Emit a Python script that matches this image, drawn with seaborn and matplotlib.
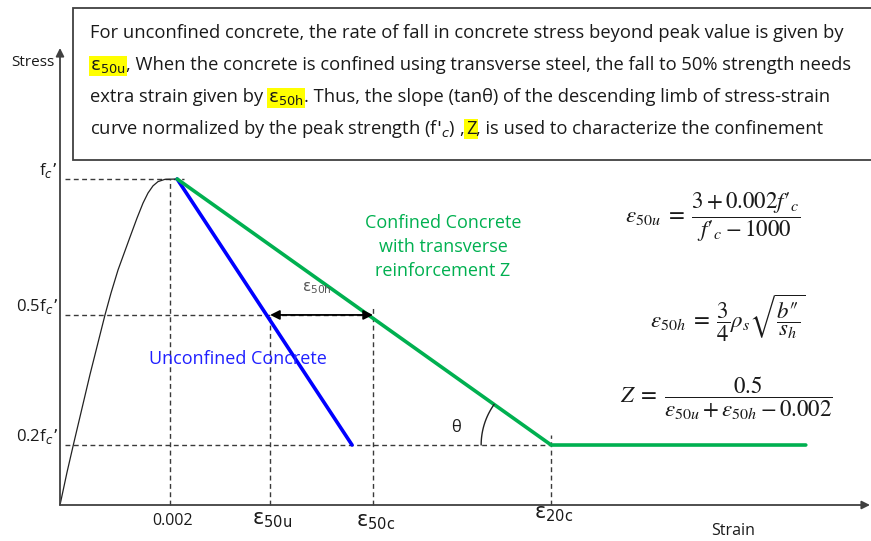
import numpy as np
import pandas as pd
import matplotlib.pyplot as plt
import seaborn as sns
from matplotlib.patches import Rectangle

# Values: strain (absolute), stress as a fraction of f'c
rise_strain = [0.0, 0.000127, 0.000242, 0.000545, 0.000818, 0.000927, 0.001055,
               0.001273, 0.0014, 0.001509, 0.0016, 0.001691, 0.001782, 0.001909, 0.00213]
rise_stress = [0.0, 0.10, 0.184, 0.40, 0.583, 0.65, 0.721,
               0.822, 0.880, 0.926, 0.957, 0.979, 0.992, 0.999, 1.0]

unconf_strain = [0.00213, 0.00531]
unconf_stress = [1.0, 0.184]

conf_strain = [0.00213, 0.00893, 0.01356]
conf_stress = [1.0, 0.184, 0.184]

stress_levels = [1.0, 0.583, 0.184]
stress_labels = ["f$_c$’", "0.5f$_c$’", "0.2f$_c$’"]

strain_marks = [0.002, 0.00382, 0.00569, 0.00893]
strain_labels = ["0.002", r"$\mathrm{\varepsilon}_{\mathrm{50u}}$", r"$\mathrm{\varepsilon}_{\mathrm{50c}}$",
                 r"$\mathrm{\varepsilon}_{\mathrm{20c}}$"]

GREEN = "#00b050"
BLUE = "#0000ff"
DASH = "#3a3a3a"
AXC = "#404040"
FONT = 'Open Sans'


# pixel -> data helpers (only used for placing text and frames)
def fx(px):
    return (px - 60) / 55000


def fy(py):
    return (505 - py) / 326


sns.set_style("white")
plt.rcParams['font.family'] = [FONT, 'DejaVu Sans']
plt.rcParams['text.color'] = '#1a1a1a'

fig = plt.figure(figsize=(8.71, 5.41), dpi=100)
ax = fig.add_axes([0, 0, 1, 1])
ax.set_xlim(fx(0), fx(871))
ax.set_ylim(fy(541), fy(0))
ax.axis('off')

# axes with arrows
arrow_kw = dict(arrowstyle='-|>', color=AXC, lw=1.3, mutation_scale=12, shrinkA=0, shrinkB=0)
ax.annotate("", xy=(0, fy(48)), xytext=(0, 0), arrowprops=arrow_kw)
ax.annotate("", xy=(fx(870), 0), xytext=(0, 0), arrowprops=arrow_kw)

# dashed guide lines
dash_kw = dict(color=DASH, lw=1.0, dashes=(3.5, 2.5))
h_ends = [0.00225, strain_marks[2], strain_marks[3]]
for lvl, xe in zip(stress_levels, h_ends):
    ax.plot([fx(65), xe], [lvl, lvl], **dash_kw)
v_tops = [stress_levels[0], stress_levels[1], 0.61, 0.215]
for xm, yt in zip(strain_marks, v_tops):
    ax.plot([xm, xm], [0, yt], **dash_kw)

# stress-strain curves
sns.lineplot(x=rise_strain, y=rise_stress, sort=False, estimator=None, color="#222222", lw=0.9, ax=ax)
sns.lineplot(x=unconf_strain, y=unconf_stress, sort=False, estimator=None, color=BLUE, lw=2.6, ax=ax)
sns.lineplot(x=conf_strain, y=conf_stress, sort=False, estimator=None, color=GREEN, lw=2.6, ax=ax)

# eps50h double arrow
ax.annotate("", xy=(strain_marks[1], stress_levels[1]), xytext=(strain_marks[2], stress_levels[1]),
            arrowprops=dict(arrowstyle='<|-|>', color='black', lw=1.3, mutation_scale=14,
                            shrinkA=0, shrinkB=0))
ax.text(fx(317), fy(288), r"$\mathrm{\varepsilon}_{\mathrm{50h}}$", fontsize=11, color="#555555",
        ha='center', va='center')

# theta arc at eps20c (radius 70 px on screen)
ang = np.arctan2((conf_stress[0] - conf_stress[1]) * 326, (conf_strain[1] - conf_strain[0]) * 55000)
t = np.linspace(np.pi - ang, np.pi, 30)
ax.plot(conf_strain[1] + 70 * np.cos(t) / 55000, conf_stress[1] + 70 * np.sin(t) / 326,
        color='#222222', lw=1.0)
ax.text(fx(456), fy(428), "θ", fontsize=12, ha='center', va='center')

# axis labels
ax.text(fx(33), fy(62), "Stress", fontsize=11, ha='center', va='center')
ax.text(fx(733), fy(531), "Strain", fontsize=11.5, ha='center', va='center')
for lvl, lab in zip(stress_levels, stress_labels):
    ax.text(fx(58), lvl + 0.025, lab, fontsize=12, ha='right', va='center')
lab_y = [521, 520, 521, 513]
lab_fs = [11.5, 15, 15, 15]
for xm, lab, ly, fs in zip(strain_marks, strain_labels, lab_y, lab_fs):
    ax.text(xm + 0.00004, fy(ly), lab, fontsize=fs, ha='center', va='center')

# curve annotations
ax.text(fx(443), fy(247), "Confined Concrete\nwith transverse\nreinforcement Z", color=GREEN,
        fontsize=13, ha='center', va='center', linespacing=1.45)
ax.text(fx(238), fy(359), "Unconfined Concrete", color="#2020ff", fontsize=13,
        ha='center', va='center')

# equations
eq_kw = dict(fontsize=16.5, math_fontfamily='stix', ha='center', va='center')
ax.text(fx(713), fy(217), "$\\varepsilon_{50u}\\;=\\;\\dfrac{3+0.002f\u2032_{c}}{f\u2032_{c}-1000}$", **eq_kw)
ax.text(fx(728), fy(318), "$\\varepsilon_{50h}\\;=\\;\\dfrac{3}{4}\\rho_s\\sqrt{\\dfrac{b\u2033}{s_h}}$", **eq_kw)
ax.text(fx(726), fy(398), r"$Z\;=\;\dfrac{0.5}{\varepsilon_{50u}+\varepsilon_{50h}-0.002}$", **eq_kw)

# explanatory text box
ax.add_patch(Rectangle((fx(73), fy(160)), fx(880) - fx(73), fy(8) - fy(160),
                       facecolor='white', edgecolor=AXC, lw=1.3, zorder=3))
hl = dict(boxstyle='square,pad=0.08', facecolor='#ffff00', edgecolor='none')
eps_u = r"$\mathrm{\varepsilon}_{\mathrm{50u}}$"
eps_h = r"$\mathrm{\varepsilon}_{\mathrm{50h}}$"
lines = [
    [("For unconfined concrete, the rate of fall in concrete stress beyond peak value is given by", None)],
    [(eps_u, hl),
     (", When the concrete is confined using transverse steel, the fall to 50% strength needs", None)],
    [("extra strain given by ", None), (eps_h, hl),
     (". Thus, the slope (tanθ) of the descending limb of stress-strain", None)],
    [("curve normalized by the peak strength (f$'_{c}$) , ", None), ("Z", hl),
     (", is used to characterize the confinement", None)],
]
baselines = [38, 70, 102, 134]
box_fs = 13.2
for pieces, bl in zip(lines, baselines):
    prev = None
    for s, box in pieces:
        if prev is None:
            prev = ax.text(fx(90), fy(bl), s, fontsize=box_fs, va='baseline', ha='left',
                           bbox=box, zorder=4)
        else:
            prev = ax.annotate(s, xy=(1, fy(bl)), xycoords=(prev, 'data'), fontsize=box_fs,
                               va='baseline', ha='left', bbox=box, zorder=4)

fig.savefig("out.png", dpi=100)
